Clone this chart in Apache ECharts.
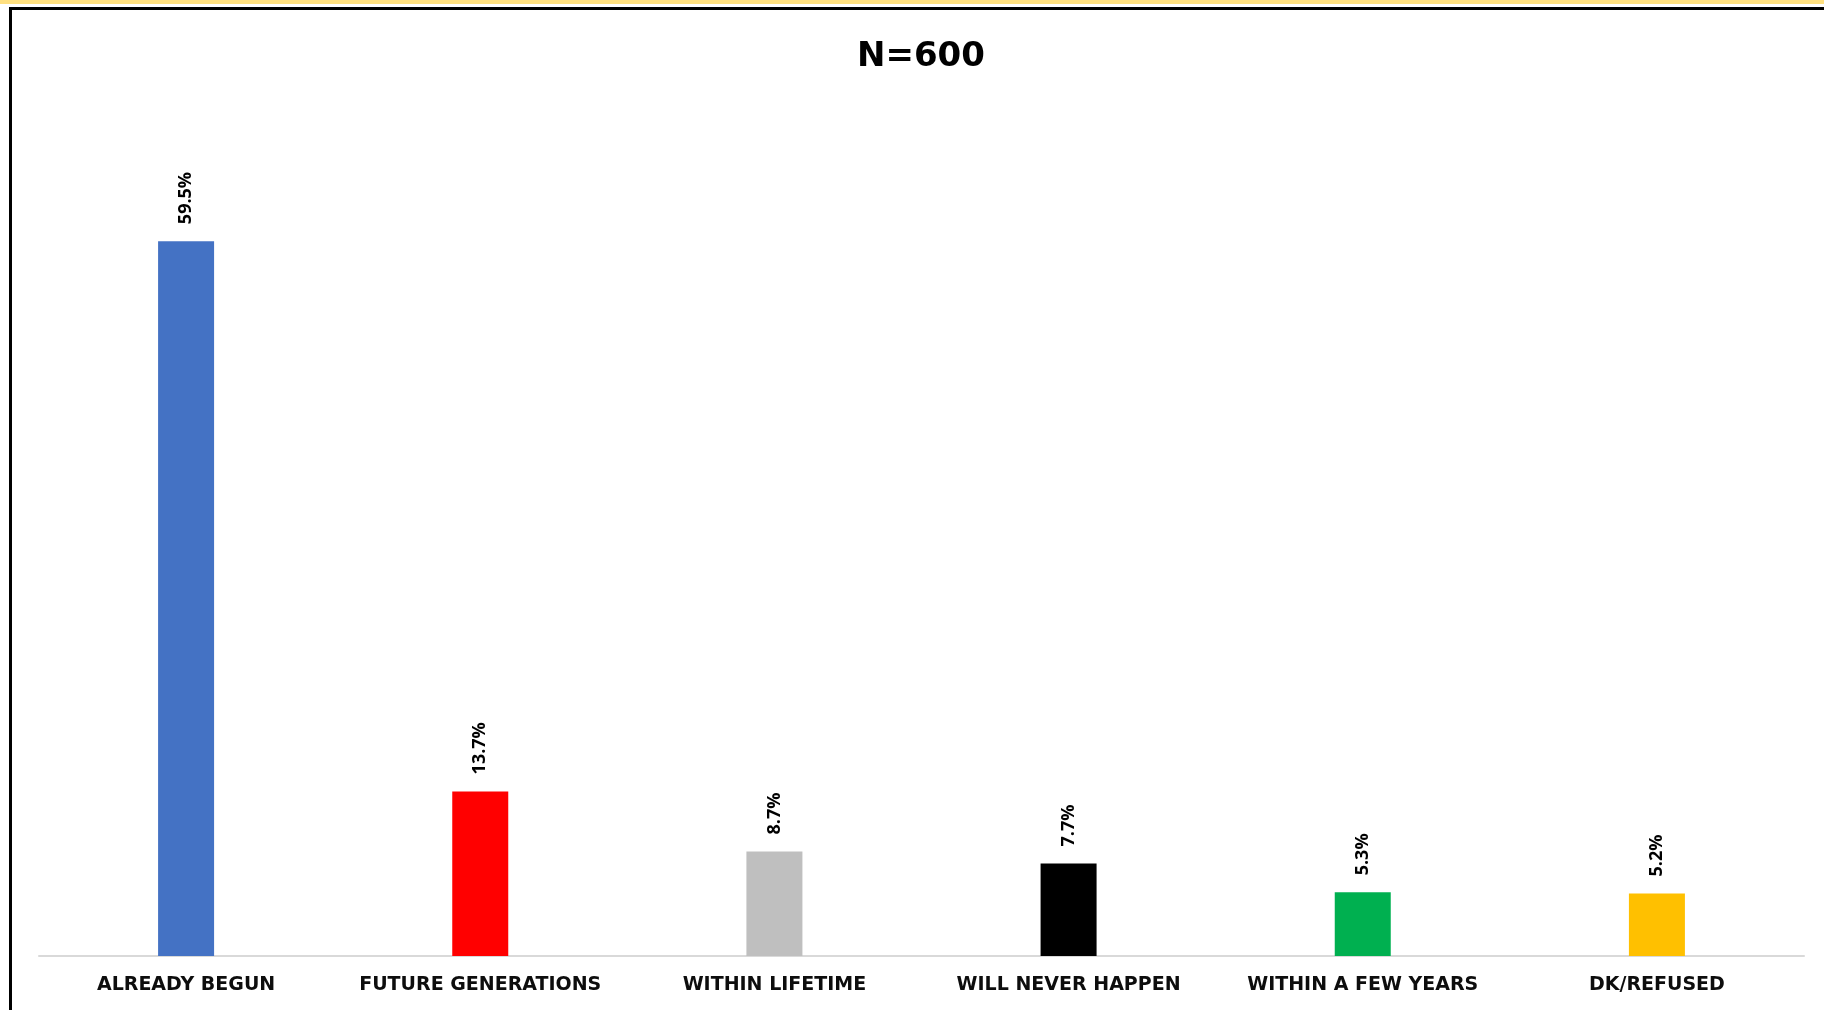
<!DOCTYPE html>
<html>
<head>
<meta charset="utf-8">
<title>N=600</title>
<script src="https://cdn.jsdelivr.net/npm/echarts@6/dist/echarts.min.js"></script>
<style>
  html, body { margin: 0; padding: 0; background: #ffffff; }
  #main { width: 1824px; height: 1010px; }
</style>
</head>
<body>
<div id="main"></div>
<script>
// data
const categories = ['ALREADY BEGUN', 'FUTURE GENERATIONS', 'WITHIN LIFETIME', 'WILL NEVER HAPPEN', 'WITHIN A FEW YEARS', 'DK/REFUSED']
const values = [59.5, 13.7, 8.7, 7.7, 5.3, 5.2]
const barColors = ['#4472C4', '#FF0000', '#BFBFBF', '#000000', '#00B050', '#FFC000']
const titleText = 'N=600'

const chartDom = document.getElementById('main')
const myChart = echarts.init(chartDom)

let option = {
  backgroundColor: '#ffffff',
  animation: false,
  title: {
    text: titleText,
    left: 852,
    top: 35,
    textStyle: {
      fontFamily: 'DejaVu Sans',
      fontWeight: 'bold',
      fontSize: 34,
      color: '#000000',
    },
  },
  // yellow strip + black frame at top / left
  graphic: [
    { type: 'rect', shape: { x: 0, y: 0, width: 1824, height: 4 }, style: { fill: '#FFE080' }, silent: true },
    { type: 'line', shape: { x1: 9, y1: 8.5, x2: 1824, y2: 8.5 }, style: { stroke: '#000000', lineWidth: 3 }, silent: true },
    { type: 'line', shape: { x1: 10.5, y1: 7, x2: 10.5, y2: 1010 }, style: { stroke: '#000000', lineWidth: 3 }, silent: true },
  ],
  grid: {
    left: 39,
    right: 20,
    top: 115,
    bottom: 54,
    containLabel: false,
  },
  xAxis: {
    type: 'category',
    data: categories,
    axisTick: { show: false },
    axisLine: {
      show: true,
      lineStyle: { color: '#D9D9D9', width: 2 },
    },
    axisLabel: {
      interval: 0,
      margin: 20,
      fontFamily: 'DejaVu Sans',
      fontWeight: 'bold',
      fontSize: 19,
      color: '#0D0D0D',
    },
  },
  yAxis: {
    type: 'value',
    min: 0,
    max: 70,
    show: false,
    splitLine: { show: false },
  },
  series: [
    {
      type: 'bar',
      barWidth: 56,
      data: values.map((v, i) => ({
        value: v,
        itemStyle: { color: barColors[i] },
      })),
      label: {
        show: true,
        position: 'top',
        rotate: 90,
        align: 'left',
        verticalAlign: 'middle',
        distance: 17,
        formatter: '{c}%',
        fontFamily: 'Open Sans',
        fontWeight: 'bold',
        fontSize: 18,
        color: '#000000',
      },
    },
  ],
}
myChart.setOption(option)
</script>
</body>
</html>
